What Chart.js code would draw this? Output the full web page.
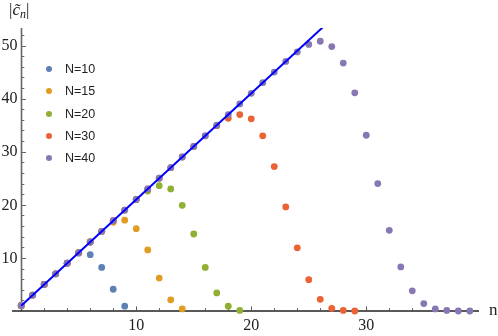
<!DOCTYPE html>
<html>
<head>
<meta charset="utf-8">
<title>|c_n| vs n</title>
<script src="https://cdn.jsdelivr.net/npm/chart.js@4.4.0/dist/chart.umd.min.js"></script>
<style>
  body { margin: 0; background: #fff; }
  #wrap { position: relative; width: 498px; height: 336px; }
  #cn-chart { position: absolute; left: 0; top: 0; }
  #ytitle { position: absolute; left: 9px; top: 0px; font: 17px 'Liberation Serif', 'DejaVu Serif', serif; color: #222; white-space: nowrap; }
  #ytitle sub { font-size: 12px; vertical-align: -3px; }
  #xtitle { position: absolute; left: 489px; top: 300px; font: 17px 'Liberation Serif', 'DejaVu Serif', serif; color: #222; }
  #cn-chart-legend { position: absolute; left: 46px; top: 58px; margin: 0; padding: 0; list-style: none;
    font: 12.5px 'Liberation Sans', Arial, sans-serif; color: #222; }
  #cn-chart-legend li { height: 22.3px; line-height: 22.3px; white-space: nowrap; }
  #cn-chart-legend span { display: inline-block; width: 6px; height: 6px; border-radius: 50%; margin-right: 13px; vertical-align: 1px; }
</style>
</head>
<body>
<div id="wrap">
  <canvas id="cn-chart" width="498" height="336"></canvas>
  <div id="ytitle">|<i>c&#771;</i><sub><i>n</i></sub>|</div>
  <div id="xtitle">n</div>
  <ul id="cn-chart-legend"></ul>
</div>
<script>
// n index values
const nValues = [0, 1, 2, 3, 4, 5, 6, 7, 8, 9, 10, 11, 12, 13, 14, 15, 16, 17, 18, 19,
                 20, 21, 22, 23, 24, 25, 26, 27, 28, 29, 30, 31, 32, 33, 34, 35, 36, 37, 38, 39];

// |c_n| for each N
const cN10 = [1, 3, 5, 7, 9, 10.9, 10.6, 8.2, 4.1, 0.9];
const cN15 = [1, 3, 5, 7, 9, 11, 13, 15, 16.7, 17.1, 15.5, 11.5, 6.2, 2.1, 0.4];
const cN20 = [1, 3, 5, 7, 9, 11, 13, 15, 17, 19, 21, 22.6, 23.6, 23.0, 19.9, 14.5, 8.2, 3.4, 0.9, 0.1];
const cN30 = [1, 3, 5, 7, 9, 11, 13, 15, 17, 19, 21, 23, 25, 27, 29, 31, 33, 34.9, 36.3, 37.0,
              36.2, 33.0, 27.2, 19.6, 11.9, 5.9, 2.2, 0.5, 0.1, 0.0];
const cN40 = [1, 3, 5, 7, 9, 11, 13, 15, 17, 19, 21, 23, 25, 27, 29, 31, 33, 35, 37, 39,
              41, 43, 45, 47.0, 48.8, 50.2, 50.8, 49.8, 46.7, 41.1, 33.1, 24.0, 15.2, 8.3, 3.8, 1.4, 0.4, 0.1, 0, 0];

// reference line 2n+1
const lineN = [0, 27];
const lineC = [1, 55];

const seriesLabels = ['N=10', 'N=15', 'N=20', 'N=30', 'N=40'];
const seriesValues = [cN10, cN15, cN20, cN30, cN40];
const seriesColors = ['#5e81b5', '#e19c24', '#8fb032', '#eb6235', '#8778b3'];

const xTickLabels = [10, 20, 30];
const yTickLabels = [10, 20, 30, 40, 50];

function toPoints(xs, ys) {
  return ys.map((v, i) => ({ x: xs[i], y: v }));
}

const datasets = seriesValues.map((vals, i) => ({
  label: seriesLabels[i],
  data: toPoints(nValues, vals),
  backgroundColor: seriesColors[i],
  borderColor: seriesColors[i],
  pointRadius: 3.4,
  pointBorderWidth: 0,
  showLine: false,
  clip: false,
  order: 5 - i
}));

datasets.push({
  label: '2n+1',
  data: toPoints(lineN, lineC),
  showLine: true,
  borderColor: '#0000ff',
  borderWidth: 2,
  pointRadius: 0,
  order: 0
});

// Mathematica-style axes through the origin, ticks pointing inward
const axesPlugin = {
  id: 'mathAxes',
  beforeDatasetsDraw: function (chart) {
    const ctx = chart.ctx;
    const area = chart.chartArea;
    const x = chart.scales.x, y = chart.scales.y;
    const x0 = Math.round(x.getPixelForValue(0)) + 0.5;
    const y0 = Math.round(y.getPixelForValue(0));

    ctx.save();
    // y axis
    ctx.strokeStyle = '#666';
    ctx.lineWidth = 1.6;
    ctx.beginPath();
    ctx.moveTo(x0, y0);
    ctx.lineTo(x0, area.top);
    ctx.stroke();
    for (let v = 2; v <= y.max; v += 2) {
      const py = Math.round(y.getPixelForValue(v)) + 0.5;
      const len = (v % 10 === 0) ? 4.5 : 2.8;
      ctx.lineWidth = 1;
      ctx.beginPath();
      ctx.moveTo(x0, py);
      ctx.lineTo(x0 + len, py);
      ctx.stroke();
    }

    // x axis
    ctx.strokeStyle = '#222';
    ctx.lineWidth = 1.6;
    ctx.beginPath();
    ctx.moveTo(area.left, y0);
    ctx.lineTo(area.right, y0);
    ctx.stroke();
    ctx.strokeStyle = '#555';
    for (let v = 2; v <= x.max; v += 2) {
      const px = Math.round(x.getPixelForValue(v)) + 0.5;
      const len = (v % 10 === 0) ? 4.5 : 2.8;
      ctx.lineWidth = 1;
      ctx.beginPath();
      ctx.moveTo(px, y0);
      ctx.lineTo(px, y0 - len);
      ctx.stroke();
    }

    // tick labels
    ctx.fillStyle = '#222';
    ctx.font = "16px 'Liberation Serif', 'DejaVu Serif', serif";
    ctx.textAlign = 'right';
    ctx.textBaseline = 'middle';
    yTickLabels.forEach(function (v) {
      ctx.fillText(String(v), x0 - 4, y.getPixelForValue(v) + 0.5);
    });
    ctx.textAlign = 'center';
    ctx.textBaseline = 'top';
    xTickLabels.forEach(function (v) {
      ctx.fillText(String(v), x.getPixelForValue(v), y0 + 7);
    });
    ctx.restore();
  }
};

new Chart(document.getElementById('cn-chart'), {
  type: 'scatter',
  data: { datasets: datasets },
  options: {
    responsive: false,
    animation: false,
    layout: { padding: { left: 12, right: 19, top: 28, bottom: 25 } },
    scales: {
      x: { type: 'linear', min: -0.8, max: 39.8, display: false },
      y: { type: 'linear', min: 0, max: 53.3, display: false }
    },
    plugins: {
      legend: { display: false },
      tooltip: { enabled: false }
    }
  },
  plugins: [axesPlugin]
});

// legend
const ul = document.getElementById('cn-chart-legend');
seriesLabels.forEach(function (label, i) {
  ul.innerHTML += '<li><span style="background-color: ' + seriesColors[i] + '"></span>' + label + '</li>';
});
</script>
</body>
</html>
